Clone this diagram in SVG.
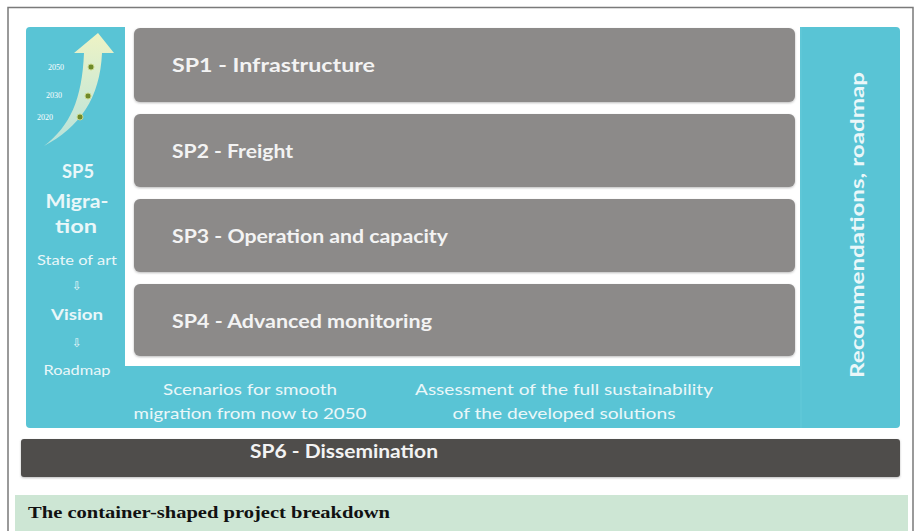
<svg xmlns="http://www.w3.org/2000/svg" width="915" height="531" viewBox="0 0 915 531">
<defs>
<style>
.sp{font-family:Lato,"Open Sans","Liberation Sans",sans-serif;font-weight:bold;font-size:19px;fill:#f3f3f3}
.cy{font-family:Lato,"Open Sans","Liberation Sans",sans-serif;fill:#eaf7f9}
.box{fill:#8c8a89}
.yr{font-family:"Liberation Serif",serif;font-size:8px;fill:#ffffff}
.dot{fill:#6f8a2a;stroke:#c9d78a;stroke-width:1}
</style>
<linearGradient id="ag" x1="0" y1="1" x2="0" y2="0">
<stop offset="0" stop-color="#f4f6dc" stop-opacity="0.6"/>
<stop offset="1" stop-color="#eef3c4"/>
</linearGradient>
<filter id="sh" x="-5%" y="-10%" width="110%" height="130%">
<feDropShadow dx="0" dy="1" stdDeviation="1" flood-color="#555" flood-opacity="0.4"/>
</filter>
</defs>
<rect x="0" y="0" width="915" height="531" fill="#ffffff"/>
<path d="M8,531 V7.5 H913 V531" fill="none" stroke="#7a7a7a" stroke-width="1.5"/>

<g id="container">
<rect x="26" y="27" width="874" height="401" rx="4" fill="#59c4d5"/>
<rect x="125" y="27" width="675" height="339" fill="#ffffff"/>
<line x1="801" y1="27" x2="801" y2="428" stroke="#64cad9" stroke-width="1"/>
</g>

<g id="sp5">
<path d="M44,146 C70,126 82,100 84,53 L74,53 L98,33 L114,53 L102,53 C100,98 80,127 44,146 Z" fill="url(#ag)"/>
<circle class="dot" cx="91" cy="67" r="3"/>
<circle class="dot" cx="88" cy="96" r="3"/>
<circle class="dot" cx="80" cy="117" r="3"/>
<text class="yr" x="48" y="70">2050</text>
<text class="yr" x="46" y="98">2030</text>
<text class="yr" x="37" y="120">2020</text>
<text class="cy" x="78" y="178" font-size="19" font-weight="bold" text-anchor="middle" textLength="32" lengthAdjust="spacingAndGlyphs">SP5</text>
<text class="cy" x="77" y="208" font-size="19" font-weight="bold" text-anchor="middle" textLength="63" lengthAdjust="spacingAndGlyphs">Migra-</text>
<text class="cy" x="76" y="233" font-size="19" font-weight="bold" text-anchor="middle" textLength="42" lengthAdjust="spacingAndGlyphs">tion</text>
<text class="cy" x="77" y="265" font-size="14" text-anchor="middle" textLength="80" lengthAdjust="spacingAndGlyphs">State of art</text>
<text x="77" y="290" font-family="DejaVu Sans,sans-serif" font-size="12" fill="#eaf7f9" text-anchor="middle">⇩</text>
<text class="cy" x="77" y="320" font-size="16" font-weight="bold" text-anchor="middle" textLength="52" lengthAdjust="spacingAndGlyphs">Vision</text>
<text x="77" y="347" font-family="DejaVu Sans,sans-serif" font-size="12" fill="#eaf7f9" text-anchor="middle">⇩</text>
<text class="cy" x="77" y="375" font-size="13" text-anchor="middle" textLength="67" lengthAdjust="spacingAndGlyphs">Roadmap</text>
</g>

<g id="sp1">
<rect class="box" x="134" y="28" width="661" height="74" rx="6" filter="url(#sh)"/>
<text class="sp" x="172" y="72" textLength="203" lengthAdjust="spacingAndGlyphs">SP1 - Infrastructure</text>
</g>
<g id="sp2">
<rect class="box" x="134" y="114" width="661" height="73" rx="6" filter="url(#sh)"/>
<text class="sp" x="172" y="158" textLength="121" lengthAdjust="spacingAndGlyphs">SP2 - Freight</text>
</g>
<g id="sp3">
<rect class="box" x="134" y="199" width="661" height="73" rx="6" filter="url(#sh)"/>
<text class="sp" x="172" y="243" textLength="276" lengthAdjust="spacingAndGlyphs">SP3 - Operation and capacity</text>
</g>
<g id="sp4">
<rect class="box" x="134" y="284" width="661" height="72" rx="6" filter="url(#sh)"/>
<text class="sp" x="172" y="328" textLength="260" lengthAdjust="spacingAndGlyphs">SP4 - Advanced monitoring</text>
</g>

<g id="scenarios">
<text class="cy" x="250" y="395" font-size="16" text-anchor="middle" textLength="174" lengthAdjust="spacingAndGlyphs">Scenarios for smooth</text>
<text class="cy" x="250" y="419" font-size="16" text-anchor="middle" textLength="233" lengthAdjust="spacingAndGlyphs">migration from now to 2050</text>
</g>
<g id="assessment">
<text class="cy" x="564" y="395" font-size="16" text-anchor="middle" textLength="298" lengthAdjust="spacingAndGlyphs">Assessment of the full sustainability</text>
<text class="cy" x="564" y="419" font-size="16" text-anchor="middle" textLength="223" lengthAdjust="spacingAndGlyphs">of the developed solutions</text>
</g>

<g id="recommendations">
<text class="cy" transform="translate(864,225) rotate(-90)" x="0" y="0" font-size="19" font-weight="bold" text-anchor="middle" textLength="306" lengthAdjust="spacingAndGlyphs">Recommendations, roadmap</text>
</g>

<g id="sp6">
<rect x="21" y="439" width="879" height="38" rx="3" fill="#4f4d4c" filter="url(#sh)"/>
<text class="sp" x="250" y="458" textLength="188" lengthAdjust="spacingAndGlyphs">SP6 - Dissemination</text>
</g>

<g id="connectors"></g>

<g id="caption">
<rect x="15" y="495" width="893" height="36" fill="#cde6d4"/>
<text x="28" y="518" font-family="Liberation Serif,serif" font-weight="bold" font-size="17" fill="#111" textLength="362" lengthAdjust="spacingAndGlyphs">The container-shaped project breakdown</text>
</g>
</svg>
